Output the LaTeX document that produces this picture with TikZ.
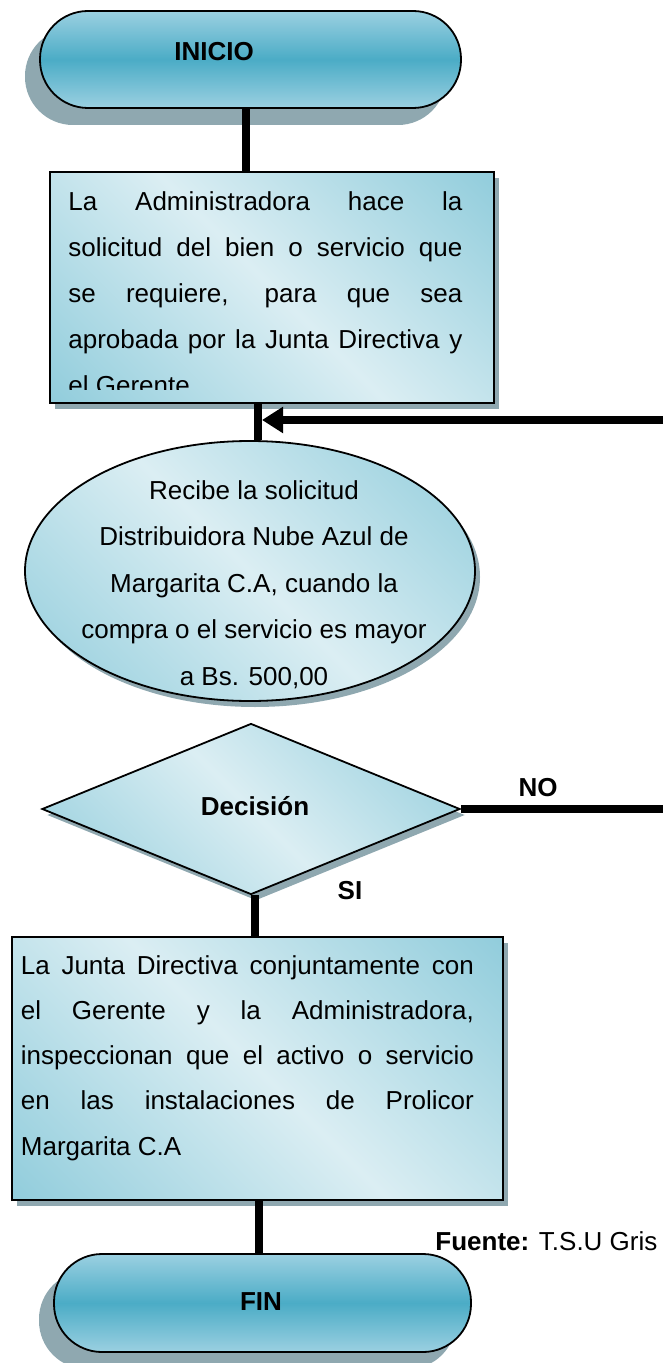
\documentclass[tikz,border=0pt]{standalone}
\usepackage{fontspec}
\setmainfont{Liberation Sans}
\usetikzlibrary{shadows}
\usetikzlibrary{positioning}
\usetikzlibrary{arrows.meta,shapes}
\usetikzlibrary{shadings}
\usetikzlibrary{calc}
\definecolor{cajaosc}{RGB}{146,205,220}
\definecolor{cajaclara}{RGB}{219,238,243}
\definecolor{termosc}{RGB}{75,172,198}
\definecolor{termclaro}{RGB}{155,208,225}
\definecolor{sombra}{RGB}{143,168,176}
\pgfdeclarehorizontalshading{cajashade}{100bp}{color(0bp)=(cajaosc); color(15bp)=(cajaosc); color(50bp)=(cajaclara); color(85bp)=(cajaosc); color(100bp)=(cajaosc)}
\pgfdeclareverticalshading{termshade}{100bp}{color(0bp)=(termclaro); color(25bp)=(termclaro); color(50bp)=(termosc); color(75bp)=(termclaro); color(100bp)=(termclaro)}
\tikzstyle{termino}=[rectangle, rounded corners=24pt, draw=black, line width=0.9pt, shade, shading=termshade, minimum width=210.5pt, minimum height=48.5pt, inner sep=0pt, drop shadow={shadow xshift=-7.5pt, shadow yshift=-8.5pt, fill=sombra, opacity=1}]
\tikzstyle{caja}=[rectangle, draw=black, line width=0.9pt, shade, shading=cajashade, shading angle=45, inner sep=0pt, drop shadow={shadow xshift=2.5pt, shadow yshift=-3pt, fill=sombra, opacity=1}]
\tikzstyle{conector}=[draw, line width=3.8pt]
\tikzstyle{texto}=[inner sep=0pt, font=\fontsize{13}{23}\selectfont]
\tikzstyle{etiq}=[inner sep=0pt, font=\fontsize{13}{15}\selectfont\bfseries]

\begin{document}
\begin{tikzpicture}[x=0.5pt, y=-0.5pt]
  \useasboundingbox (0,0) rectangle (663,1363);

  % formas
  \node[termino] (inicio) at (250.5,59.5) {};
  \node[caja, minimum width=222pt, minimum height=115.5pt] (box1) at (272,287.5) {};
  \node[caja, ellipse, minimum width=225pt, minimum height=130pt] (elip) at (250,571) {};
  \node[caja, diamond, minimum width=209pt, minimum height=85.5pt] (dec) at (251,809) {};
  \node[caja, minimum width=245.5pt, minimum height=131.5pt] (box2) at (257.5,1068.5) {};
  \node[termino, minimum width=208.5pt, minimum height=49pt] (fin) at (262.5,1303) {};

  % textos (base = ultima linea)
  \begin{scope}
    \clip (box1.north west) rectangle ($(box1.south east)+(0,-14)$);
    \node[texto, align=left, anchor=base west] (tbox1) at (68,395)
      {\makebox[197pt][s]{La Administradora hace la}\\
       \makebox[197pt][s]{solicitud del bien o servicio que}\\
       \makebox[197pt][s]{se requiere, para que sea}\\
       \makebox[197pt][s]{aprobada por la Junta Directiva y}\\
       el Gerente};
  \end{scope}
  \node[texto, font=\fontsize{13}{23.25}\selectfont, align=center, anchor=base] (telip) at (254,685)
    {Recibe la solicitud\\Distribuidora Nube Azul de\\Margarita C.A, cuando la\\compra o el servicio es mayor\\a Bs. 500,00};
  \node[texto, font=\fontsize{13}{22.6}\selectfont, align=left, anchor=base west] (tbox2) at (20.5,1155)
    {\makebox[226.5pt][s]{La Junta Directiva conjuntamente con}\\
     \makebox[226.5pt][s]{el Gerente y la Administradora,}\\
     \makebox[226.5pt][s]{inspeccionan que el activo o servicio}\\
     \makebox[226.5pt][s]{en las instalaciones de Prolicor}\\
     Margarita C.A};
  \foreach \x/\y/\name/\label in {214/61/tinicio/INICIO, 255/815/tdec/Decisión, 538/796/tno/NO, 350/899/tsi/SI, 261/1310/tfin/FIN}
    \node[etiq, anchor=base] (\name) at (\x,\y) {\label};
  \node[texto, anchor=base west] (fuente) at (435,1250) {\textbf{Fuente:} T.S.U Gris};

  % conectores
  \coordinate (colA) at (246,0);
  \coordinate (colB) at (258,0);
  \coordinate (colC) at (255,0);
  \coordinate (colD) at (259,0);
  \foreach \source/\dest/\col in {inicio/box1/colA, box1/elip/colB, dec/box2/colC, box2/fin/colD}
    \draw[conector] (\source.south -| \col) -- (\dest.north -| \col);

  \coordinate (retorno) at (663,420);
  \coordinate (junta) at (262,420);
  \draw[conector, -{Triangle[length=10.5pt, width=12.5pt]}] (retorno) -- (junta);
  \coordinate (salida) at (663,809);
  \draw[conector] (dec.east) -- (salida);
\end{tikzpicture}
\end{document}
